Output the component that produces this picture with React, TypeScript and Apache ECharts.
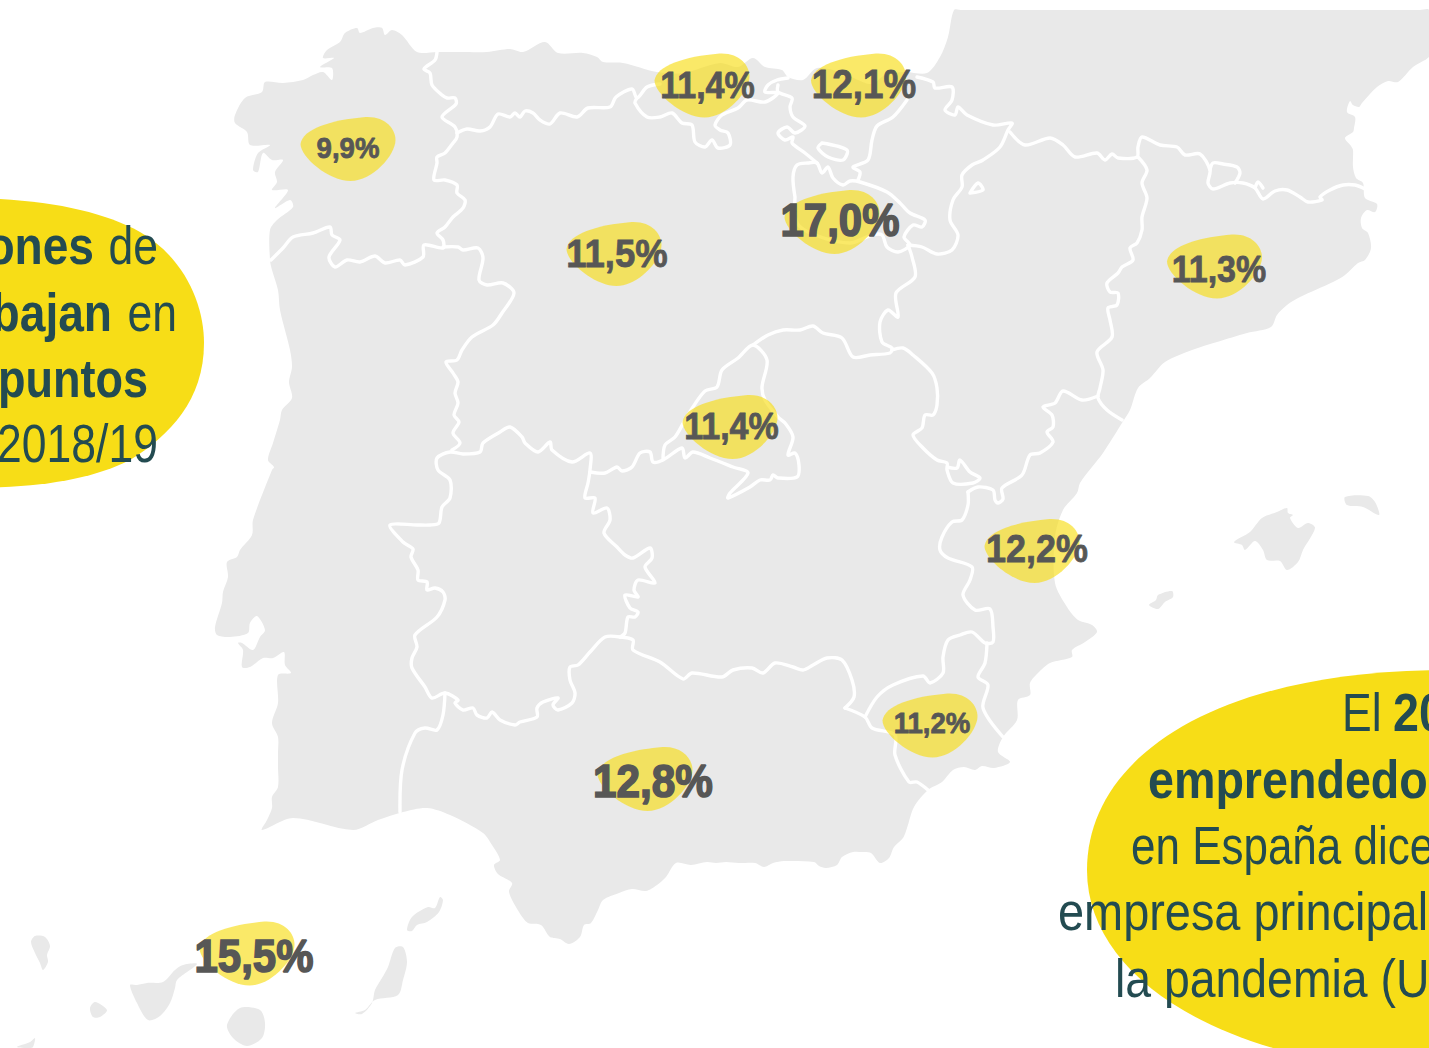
import React, { useEffect, useRef } from "react";
import * as echarts from "echarts";

type P = [number, number];

const mainland: P[] = [[954,10],[962,10],[1420,10],[1429,10],[1429,50],[1429,57],[1413,67],[1398,82],[1388,81],[1377,87],[1362,103],[1359,107],[1353,105],[1350,101],[1347,112],[1355,117],[1354,128],[1353,132],[1345,138],[1351,146],[1353,150],[1353,167],[1356,178],[1363,183],[1365,198],[1377,204],[1375,212],[1367,210],[1361,218],[1362,228],[1368,233],[1371,248],[1365,260],[1358,263],[1345,275],[1333,282],[1300,297],[1287,305],[1277,315],[1271,327],[1247,333],[1217,342],[1192,350],[1165,362],[1150,378],[1138,388],[1130,410],[1122,423],[1103,453],[1092,467],[1080,483],[1077,493],[1063,510],[1055,537],[1055,583],[1067,607],[1078,620],[1092,625],[1097,632],[1085,642],[1072,650],[1072,657],[1050,663],[1038,673],[1030,683],[1030,695],[1018,700],[1017,720],[1003,737],[998,752],[1010,762],[994,768],[982,766],[975,770],[964,767],[953,770],[942,782],[928,790],[914,807],[907,828],[903,838],[894,847],[889,858],[880,863],[871,853],[862,852],[853,852],[842,857],[837,865],[826,868],[819,866],[814,862],[784,861],[773,863],[764,867],[755,863],[739,863],[726,862],[716,863],[707,862],[691,865],[676,863],[666,877],[657,885],[646,891],[632,889],[619,893],[603,900],[598,910],[591,923],[584,925],[580,937],[569,944],[560,939],[550,937],[541,925],[528,923],[519,912],[509,892],[512,883],[498,874],[494,865],[500,860],[492,845],[483,833],[450,815],[427,808],[403,812],[378,820],[353,830],[293,818],[262,830],[267,820],[272,808],[272,797],[278,787],[278,767],[278,753],[278,737],[272,723],[278,703],[278,675],[291,673],[285,665],[284,652],[273,658],[263,658],[250,667],[242,667],[243,650],[238,643],[242,643],[253,650],[260,637],[265,630],[257,616],[250,623],[248,633],[230,637],[217,635],[215,627],[222,603],[223,592],[228,577],[227,562],[237,557],[240,550],[252,535],[253,520],[272,470],[274,467],[268,460],[273,443],[280,420],[282,410],[292,398],[289,382],[292,367],[290,350],[280,310],[278,290],[272,270],[270,260],[270,230],[277,220],[293,207],[290,200],[275,208],[288,190],[272,190],[277,182],[275,172],[283,160],[272,160],[263,153],[258,172],[253,170],[258,153],[270,145],[250,145],[247,132],[235,123],[235,115],[245,98],[262,92],[265,82],[283,83],[303,80],[313,75],[323,72],[332,80],[332,68],[320,67],[334,58],[323,58],[327,50],[340,42],[345,33],[357,28],[360,33],[373,28],[382,28],[385,35],[392,30],[402,35],[417,52],[437,52],[460,52],[487,52],[510,49],[523,52],[545,42],[558,53],[583,53],[597,57],[603,62],[623,63],[657,72],[683,73],[720,63],[738,67],[753,58],[765,67],[782,70],[788,77],[803,80],[817,68],[840,72],[858,80],[872,84],[885,75],[905,72],[927,73],[940,57],[948,37]];
const mallorca: P[] = [[1234,542],[1250,532],[1262,518],[1277,512],[1287,508],[1288,513],[1293,515],[1290,518],[1298,528],[1308,523],[1315,528],[1303,550],[1298,562],[1287,570],[1280,561],[1267,560],[1263,550],[1255,541],[1245,550],[1242,545]];
const menorca: P[] = [[1345,497],[1368,496],[1375,502],[1379,515],[1363,507],[1347,505]];
const ibiza: P[] = [[1149,605],[1156,600],[1158,595],[1172,591],[1173,597],[1165,602],[1158,609]];
const laPalma: P[] = [[31,942],[35,936],[45,937],[50,946],[47,955],[48,962],[43,970],[40,963],[35,953]];
const tenerife: P[] = [[130,985],[137,985],[147,983],[163,982],[175,970],[183,965],[197,964],[177,980],[175,988],[170,1003],[160,1016],[148,1020],[137,1003]];
const gomera: P[] = [[90,1008],[95,1002],[107,1010],[100,1017],[93,1017]];
const hierro: P[] = [[17,1047],[30,1042],[35,1038],[33,1047],[30,1048]];
const granCanaria: P[] = [[227,1025],[240,1008],[260,1010],[265,1023],[262,1038],[247,1046],[233,1038]];
const fuerteventura: P[] = [[355,1013],[365,1010],[375,1000],[398,995],[403,980],[407,962],[403,947],[395,948],[388,967],[382,978],[375,990],[372,1003],[362,1014]];
const lanzarote: P[] = [[407,930],[412,917],[428,907],[435,908],[440,897],[443,900],[439,912],[427,922],[417,925],[412,931]];
const landShapes: P[][] = [mainland, mallorca, menorca, ibiza, laPalma, tenerife, gomera, hierro, granCanaria, fuerteventura, lanzarote];

const galicia: P[] = [[437,52],[435,60],[424,69],[430,73],[432,85],[442,95],[447,98],[455,98],[456,104],[442,117],[455,127],[457,137],[453,143],[445,153],[437,157],[437,163],[434,180],[445,180],[457,185],[457,193],[465,200],[463,208],[453,217],[445,227],[437,233],[443,240],[443,248],[424,245],[423,257],[405,265],[400,260],[385,263],[375,256],[360,262],[347,260],[335,267],[329,257],[340,240],[332,235],[330,227],[313,233],[293,237],[283,248],[271,260]];
const asturias: P[] = [[457,133],[467,129],[480,131],[490,127],[498,114],[510,117],[515,113],[520,117],[525,111],[533,113],[540,120],[550,124],[560,113],[577,117],[588,108],[610,107],[616,97],[632,89],[637,98],[647,87],[660,84]];
const cantabria: P[] = [[637,98],[635,103],[647,117],[660,117],[672,113],[682,123],[692,125],[695,142],[705,147],[712,140],[718,148],[730,145],[728,133],[720,130],[715,125],[722,115],[738,108],[747,100],[765,102],[778,93],[765,92],[768,85],[777,80],[788,78]];
const basque: P[] = [[778,85],[778,92],[792,98],[790,107],[793,117],[805,126],[795,133],[787,127],[778,133],[785,140],[793,137],[792,143],[805,153],[817,163]];
const rioja: P[] = [[795,197],[793,177],[797,165],[808,163],[817,163],[822,173],[828,167],[833,178],[843,185],[850,181],[860,182],[887,192],[900,203],[910,213],[925,220],[922,227],[913,225],[904,237],[910,245],[898,252],[887,247],[882,235],[872,235],[850,243],[815,235],[797,223],[795,197]];
const trevino: P[] = [[822,143],[847,150],[843,160],[828,157],[818,148],[822,143]];
const navarraWest: P[] = [[907,100],[893,117],[877,126],[872,140],[868,160],[853,167],[860,172],[858,180]];
const navarraFrance: P[] = [[917,77],[933,82],[935,88],[952,87],[952,100],[945,110],[955,115],[958,107],[967,115],[993,125],[1012,123],[1008,130],[1000,147],[983,160],[972,165],[962,175],[962,187],[953,200],[950,220],[958,235],[952,250],[937,254],[922,247],[908,245]];
const petilla: P[] = [[970,193],[978,183],[983,190],[970,193]];
const pyrenees: P[] = [[1010,132],[1025,145],[1050,138],[1063,145],[1075,157],[1097,153],[1105,160],[1112,154],[1118,158],[1137,157],[1138,147],[1142,137],[1160,145],[1177,147],[1185,155],[1200,154],[1210,170],[1208,183],[1213,189],[1230,183],[1243,183],[1255,188],[1263,199],[1275,191],[1287,190],[1300,197],[1308,202],[1322,200],[1320,197],[1330,190],[1343,185],[1355,185],[1365,189]];
const andorra: P[] = [[1210,170],[1213,163],[1223,164],[1237,167],[1240,173],[1235,183]];
const llivia: P[] = [[1255,188],[1258,182],[1263,188]];
const aragonCatalonia: P[] = [[1138,157],[1147,170],[1142,183],[1147,198],[1142,217],[1142,230],[1137,243],[1130,248],[1133,260],[1122,267],[1118,273],[1107,283],[1110,292],[1118,293],[1117,305],[1108,308],[1110,320],[1112,337],[1097,352],[1103,370],[1100,388],[1098,398],[1107,410],[1122,420]];
const aragonValencia: P[] = [[1098,396],[1082,400],[1063,391],[1055,403],[1043,407],[1052,415],[1053,427],[1047,432],[1053,442],[1040,453],[1030,455],[1022,475],[1002,488],[1003,499],[998,503],[995,500],[993,490],[978,487],[968,492]];
const clmAragon: P[] = [[892,350],[903,348],[913,355],[932,373],[937,388],[937,405],[933,415],[925,415],[922,428],[913,435],[923,448],[937,460],[947,463],[947,470],[953,483],[973,483],[980,478],[970,472],[960,460],[957,468],[947,467]];
const clmValencia: P[] = [[968,492],[968,505],[962,520],[952,522],[942,537],[940,550],[948,558],[972,567],[970,580],[963,595],[975,610],[990,609],[993,627],[993,642],[985,643],[972,632],[960,635],[948,640],[943,657],[943,673],[930,683],[923,676],[893,685],[877,697],[865,717]];
const murciaValencia: P[] = [[987,643],[985,663],[978,677],[988,685],[983,708],[1003,737]];
const murciaAndalucia: P[] = [[845,708],[865,717],[872,728],[895,735],[895,755],[909,782],[917,782],[928,790]];
const clmAndalucia: P[] = [[845,708],[854,697],[852,680],[842,660],[827,658],[813,665],[803,670],[793,667],[775,663],[763,673],[752,668],[733,670],[722,677],[692,673],[683,679],[660,662],[633,650],[633,640],[620,637]];
const extremadura: P[] = [[620,637],[605,637],[590,652],[578,665],[570,667],[570,680],[575,693],[572,703],[558,710],[553,705],[558,698],[543,702],[537,708],[537,717],[520,722],[515,725],[500,720],[492,712],[487,718],[477,715],[473,708],[463,710],[455,703],[458,700],[445,693],[432,698],[425,687],[412,668],[412,658],[417,647],[415,635],[437,617],[445,600],[443,592],[435,588],[427,590],[427,582],[418,580],[418,570],[411,557],[413,549],[403,542],[390,525],[417,525],[430,525],[439,523],[442,507],[450,498],[450,480],[438,470],[437,458],[450,452],[463,454],[480,452],[483,443],[500,432],[510,427],[522,437],[525,443],[538,452],[550,442],[552,450],[572,462],[590,453],[590,470],[588,483],[585,498],[595,498],[593,513],[607,508],[610,520],[604,533],[617,547],[625,555],[633,558],[650,548],[652,558],[645,567],[655,583],[638,580],[634,590],[638,597],[625,595],[630,608],[638,612],[635,617],[628,617],[625,633],[620,637]];
const andaluciaPortugal: P[] = [[445,693],[443,715],[437,730],[425,728],[415,733],[402,770],[400,812]];
const madridSouth: P[] = [[590,472],[605,473],[617,467],[622,471],[632,467],[640,453],[650,452],[653,462],[663,460],[682,448],[685,458],[693,452],[710,458],[733,467],[748,473],[730,493],[728,498],[750,487],[760,480],[770,480],[773,475],[778,478],[797,477],[799,465],[795,453],[788,455],[793,437],[785,423],[778,417],[765,400],[762,387],[767,360],[753,345],[738,358],[722,370],[717,387],[705,391],[693,407],[685,420],[675,437],[665,445],[663,460]];
const clmTop: P[] = [[753,345],[768,335],[783,330],[800,330],[813,326],[823,333],[842,338],[853,357],[870,355],[890,353],[892,348],[882,342],[880,322],[888,310],[898,317],[896,293],[915,277],[912,257],[908,245]];
const cylPortugal: P[] = [[443,247],[458,247],[463,250],[478,248],[483,258],[479,280],[487,285],[503,283],[514,293],[502,313],[493,325],[472,337],[462,350],[457,360],[446,362],[453,373],[458,382],[455,393],[458,403],[454,415],[459,422],[453,433],[460,443],[452,450]];
const borderLines: P[][] = [galicia, asturias, cantabria, basque, rioja, trevino, navarraWest, navarraFrance, petilla, pyrenees, andorra, llivia, aragonCatalonia, aragonValencia, clmAragon, clmValencia, murciaValencia, murciaAndalucia, clmAndalucia, extremadura, andaluciaPortugal, madridSouth, clmTop, cylPortugal];

const valueLabels = ["9,9%", "11,5%", "11,4%", "12,1%", "17,0%", "11,3%", "11,4%", "12,2%", "11,2%", "12,8%", "15,5%"];
const blobX = [348, 614, 702, 858.5, 832, 1214.5, 730, 1032, 930, 645, 247];
const blobY = [149, 254, 85.5, 85.5, 222, 266.5, 427, 551, 725.5, 779, 953.5];
const labelX = [348, 617, 707.5, 864, 840, 1219, 731.5, 1037, 932, 653, 254];
const labelY = [147.5, 252.5, 85.5, 84, 220, 269.5, 426.5, 548, 723, 781, 956];
const labelSize = [30, 39.7, 37, 40, 45.6, 37, 37, 39.1, 30, 46, 45.6];

const BLOB = "path://M0,27 C2,12 30,3 65,0 C85,-1 95,12 95,23 C95,38 72,64 50,64 C28,64 0,40 0,27 Z";
const YELLOW = "#f7dd17";
const INK = "#234b51";

const callouts: { text: string; x: number; y: number; bold?: boolean; align: string; sx: number }[] = [
  { text: "ones", x: 94, y: 246, bold: true, align: "right", sx: 0.87 },
  { text: "de", x: 158, y: 246, align: "right", sx: 0.84 },
  { text: "bajan", x: 112, y: 312.5, bold: true, align: "right", sx: 0.87 },
  { text: "en", x: 177, y: 312.5, align: "right", sx: 0.84 },
  { text: "puntos", x: 148, y: 378.5, bold: true, align: "right", sx: 0.85 },
  { text: "2018/19", x: 158, y: 444, align: "right", sx: 0.84 },
  { text: "El", x: 1342, y: 713, align: "left", sx: 0.84 },
  { text: "20", x: 1393, y: 713, bold: true, align: "left", sx: 0.88 },
  { text: "emprendedor", x: 1148, y: 780, bold: true, align: "left", sx: 0.88 },
  { text: "en España dice", x: 1131, y: 846, align: "left", sx: 0.83 },
  { text: "empresa principal", x: 1058, y: 912, align: "left", sx: 0.885 },
  { text: "la pandemia (UE", x: 1115, y: 979, align: "left", sx: 0.875 },
];

echarts.graphic.registerShape("bubbleLeft", echarts.graphic.extendPath("M-40,198 C40,198 100,210 140,232 C185,258 204,305 204,343 C204,400 170,435 130,460 C90,480 40,488 -40,488 Z", {}));
echarts.graphic.registerShape("bubbleRight", echarts.graphic.extendPath("M1087,870 C1087,760 1210,672 1440,670 L1500,670 L1500,1100 L1273,1048 C1160,1015 1087,950 1087,870 Z", {}));

export default function App() {
  const ref = useRef<HTMLDivElement>(null);
  useEffect(() => {
    const chart = echarts.init(ref.current!, undefined, { renderer: "svg" });
    chart.setOption({
      animation: false,
      backgroundColor: "#ffffff",
      grid: { left: 0, right: 0, top: 0, bottom: 0 },
      xAxis: { type: "value", min: 0, max: 1429, show: false },
      yAxis: { type: "value", min: 0, max: 1048, inverse: true, show: false },
      graphic: [
        { type: "bubbleLeft", x: 0, y: 0, z: 20, silent: true, style: { fill: YELLOW } },
        { type: "bubbleRight", x: 0, y: 0, z: 20, silent: true, style: { fill: YELLOW } },
        ...callouts.map((c) => ({
          type: "text",
          x: c.x,
          y: c.y,
          z: 21,
          scaleX: c.sx,
          silent: true,
          style: {
            text: c.text,
            fill: INK,
            align: c.align,
            verticalAlign: "middle",
            font: `${c.bold ? "bold " : ""}53px "Liberation Sans", sans-serif`,
          },
        })),
      ],
      series: [
        {
          type: "custom",
          silent: true,
          z: 1,
          coordinateSystem: "cartesian2d",
          data: landShapes.map((_, i) => [i, 0]),
          renderItem: (params: any, api: any) => ({
            type: "polygon",
            shape: { points: landShapes[params.dataIndex].map((p) => api.coord(p)), smooth: 0.3 },
            style: { fill: "#e9e9e9", stroke: "none" },
          }),
        },
        {
          type: "custom",
          silent: true,
          z: 2,
          coordinateSystem: "cartesian2d",
          data: borderLines.map((_, i) => [i, 0]),
          renderItem: (params: any, api: any) => ({
            type: "polyline",
            shape: { points: borderLines[params.dataIndex].map((p) => api.coord(p)), smooth: 0.3 },
            style: { fill: "none", stroke: "#ffffff", lineWidth: 3.4, lineJoin: "round", lineCap: "round" },
          }),
        },
        {
          type: "scatter",
          silent: true,
          z: 3,
          symbol: BLOB,
          symbolSize: [95, 64],
          itemStyle: { color: YELLOW, opacity: 0.65 },
          data: blobX.map((x, i) => [x, blobY[i]]),
        },
        {
          type: "custom",
          silent: true,
          z: 4,
          coordinateSystem: "cartesian2d",
          data: labelX.map((x, i) => [x, labelY[i]]),
          renderItem: (params: any, api: any) => {
            const i = params.dataIndex;
            const [x, y] = api.coord([labelX[i], labelY[i]]);
            const big = labelSize[i] > 42;
            return {
              type: "text",
              x,
              y,
              scaleX: 0.92,
              style: {
                text: valueLabels[i],
                x: 0,
                y: 0,
                align: "center",
                verticalAlign: "middle",
                fill: "#575756",
                stroke: "#575756",
                lineWidth: big ? 1.6 : 0.8,
                font: `bold ${labelSize[i]}px "Liberation Sans", sans-serif`,
              },
            };
          },
        },
      ],
    });
    return () => chart.dispose();
  }, []);
  return <div ref={ref} style={{ position: "fixed", left: 0, top: 0, width: 1429, height: 1048, overflow: "hidden" }} />;
}
